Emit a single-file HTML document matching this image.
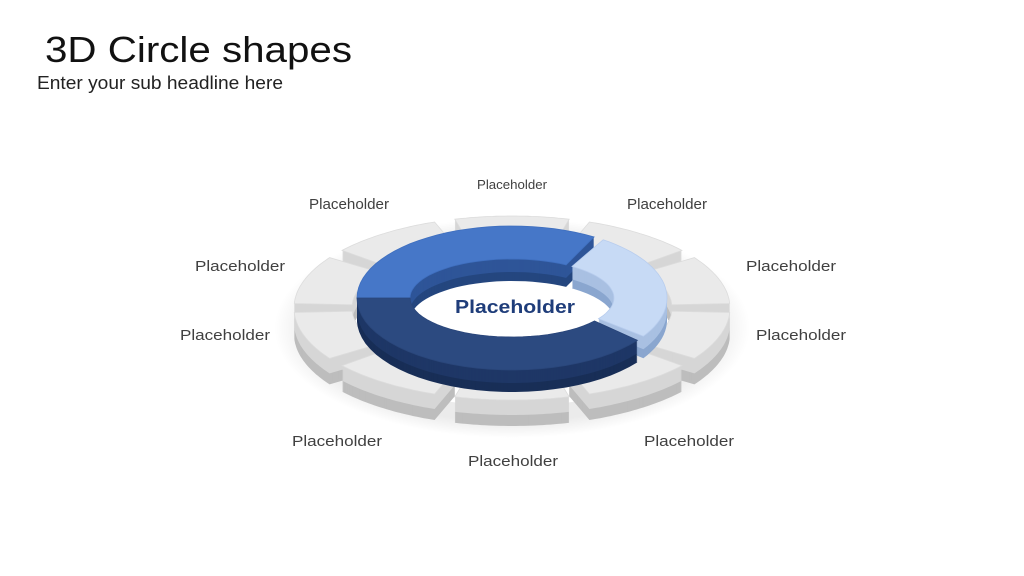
<!DOCTYPE html>
<html><head><meta charset="utf-8"><style>
html,body{margin:0;padding:0;background:#fff;}
svg{display:block;}
text{font-family:"Liberation Sans",sans-serif;}
</style></head><body>
<svg id="s" width="1024" height="576" viewBox="0 0 1024 576" xmlns="http://www.w3.org/2000/svg">
<defs>
<radialGradient id="sh" cx="0.5" cy="0.5" r="0.5"><stop offset="0.85" stop-color="#000" stop-opacity="0.08"/><stop offset="1" stop-color="#000" stop-opacity="0"/></radialGradient>
</defs>
<ellipse cx="512" cy="328" rx="238" ry="110" fill="url(#sh)"/>
<ellipse cx="512" cy="320" rx="200" ry="86" fill="#fff"/>
<g id="g"></g>
<text x="45" y="62" font-size="36" fill="#111" textLength="307" lengthAdjust="spacingAndGlyphs">3D Circle shapes</text>
<text x="37" y="89" font-size="18" fill="#222" textLength="246" lengthAdjust="spacingAndGlyphs">Enter your sub headline here</text>
<g fill="#404040" font-size="15">
<text x="477" y="189" font-size="12.5" textLength="70" lengthAdjust="spacingAndGlyphs">Placeholder</text>
<text x="309" y="209" textLength="80" lengthAdjust="spacingAndGlyphs">Placeholder</text>
<text x="627" y="209" textLength="80" lengthAdjust="spacingAndGlyphs">Placeholder</text>
<text x="195" y="271" textLength="90" lengthAdjust="spacingAndGlyphs">Placeholder</text>
<text x="746" y="271" textLength="90" lengthAdjust="spacingAndGlyphs">Placeholder</text>
<text x="180" y="340" textLength="90" lengthAdjust="spacingAndGlyphs">Placeholder</text>
<text x="756" y="340" textLength="90" lengthAdjust="spacingAndGlyphs">Placeholder</text>
<text x="292" y="446" textLength="90" lengthAdjust="spacingAndGlyphs">Placeholder</text>
<text x="644" y="446" textLength="90" lengthAdjust="spacingAndGlyphs">Placeholder</text>
<text x="468" y="466" textLength="90" lengthAdjust="spacingAndGlyphs">Placeholder</text>
</g>
<text id="ct" x="455" y="313" font-size="18" font-weight="bold" fill="#1f3d7a" textLength="120" lengthAdjust="spacingAndGlyphs">Placeholder</text>
</svg>
<script>
var g=document.getElementById('g');var NS='http://www.w3.org/2000/svg';
function arc(cx,cy,R,Ry,r,ry,a0,a1,dy){var n=30,p=[],i,t;for(i=0;i<=n;i++){t=(a0+(a1-a0)*i/n)*Math.PI/180;p.push((cx+R*Math.cos(t)).toFixed(1)+','+(cy+dy+Ry*Math.sin(t)).toFixed(1));}
for(i=n;i>=0;i--){t=(a0+(a1-a0)*i/n)*Math.PI/180;p.push((cx+r*Math.cos(t)).toFixed(1)+','+(cy+dy+ry*Math.sin(t)).toFixed(1));}return 'M'+p.join('L')+'Z';}
function seg(o){var h=o.h,k;for(k=h;k>=1;k--){var e=document.createElementNS(NS,'path');e.setAttribute('d',arc(o.cx,o.cy,o.R,o.Ry,o.r,o.ry,o.a0,o.a1,k));e.setAttribute('fill',k>h*0.6?o.side2:o.side);g.appendChild(e);}
var e=document.createElementNS(NS,'path');e.setAttribute('d',arc(o.cx,o.cy,o.R,o.Ry,o.r,o.ry,o.a0,o.a1,0));e.setAttribute('fill',o.top);e.setAttribute('stroke',o.stroke);e.setAttribute('stroke-width','0.8');g.appendChild(e);}
var segs=[];for(var i=0;i<10;i++){var c=-90+i*36;segs.push({c:c,a0:c-15.2,a1:c+15.2});}
segs.sort(function(a,b){return Math.sin(a.c*Math.PI/180)-Math.sin(b.c*Math.PI/180);});
segs.forEach(function(s){seg({cx:512,cy:308,R:218,Ry:92,r:160,ry:66,a0:s.a0,a1:s.a1,h:26,top:'#eaeaea',side:'#d6d6d6',side2:'#bdbdbd',stroke:'#dcdcdc'});});
seg({cx:512,cy:298,R:155,Ry:72,r:102,ry:39,a0:180,a1:302,h:22,top:'#4677c8',side:'#2e5598',side2:'#24467f',stroke:'#3f6fbf'});
seg({cx:512,cy:298,R:155,Ry:72,r:102,ry:39,a0:-54,a1:32,h:22,top:'#c7daf5',side:'#a9c0e2',side2:'#8aa6cf',stroke:'#b8cdee'});
seg({cx:512,cy:298,R:155,Ry:72,r:102,ry:39,a0:36,a1:180,h:22,top:'#2c4a80',side:'#1e3766',side2:'#182e57',stroke:'#2a467a'});
g.parentNode.appendChild(document.getElementById('ct'));
</script>
</body></html>
